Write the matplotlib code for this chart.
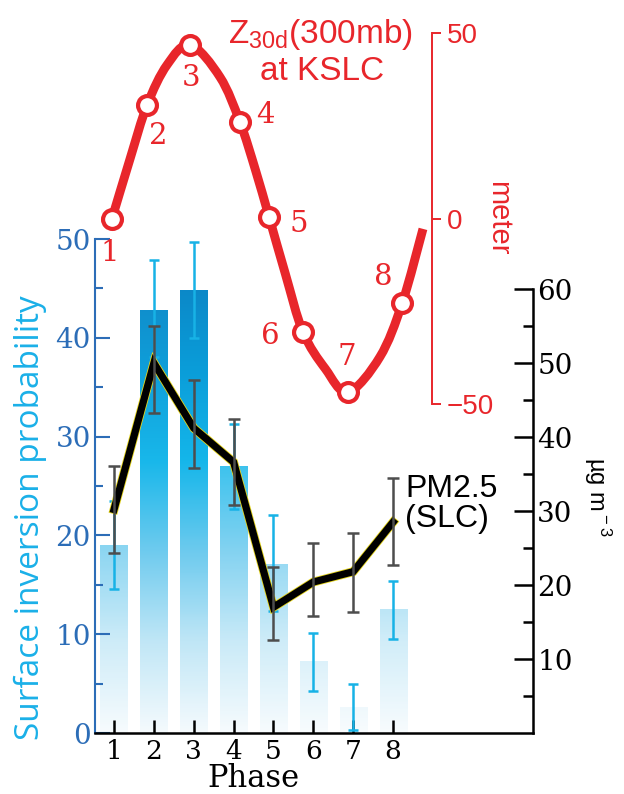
import numpy as np
import matplotlib
matplotlib.use("Agg")
import matplotlib.pyplot as plt
import matplotlib.patheffects as pe
from matplotlib.path import Path
from matplotlib.patches import PathPatch
from matplotlib.colors import LinearSegmentedColormap
from matplotlib.ticker import MultipleLocator

plt.rcParams['mathtext.fontset'] = 'custom'
plt.rcParams['mathtext.rm'] = 'Liberation Sans'

# surface inversion probability (bars, left axis)
phase = [1, 2, 3, 4, 5, 6, 7, 8]
inv_prob = [19.0, 42.8, 44.8, 27.0, 17.1, 7.2, 2.6, 12.5]
inv_lo = [14.6, 38.1, 40.0, 22.7, 12.3, 4.3, 0.3, 9.5]
inv_hi = [23.5, 47.9, 49.7, 31.3, 22.1, 10.1, 5.0, 15.4]

# PM2.5 at SLC (line, right axis, ug m-3)
pm25 = [30.2, 50.0, 41.2, 36.6, 17.0, 20.4, 21.8, 28.5]
pm25_lo = [24.3, 43.2, 35.8, 30.8, 12.6, 15.8, 16.4, 22.7]
pm25_hi = [36.1, 55.0, 47.7, 42.4, 22.4, 25.7, 27.0, 34.5]

# Z30d(300mb) at KSLC (red curve, meter); marker positions and traced curve
z_phase = [0.95, 1.83, 2.91, 4.16, 4.89, 5.74, 6.87, 8.23]
z_val = [0.0, 30.6, 46.8, 26.0, 0.4, -30.6, -46.8, -22.8]
z_curve_x = [0.95, 1.40, 1.83, 2.33, 2.91, 3.66, 4.16, 4.55, 4.89,
             5.30, 5.74, 6.30, 6.87, 7.67, 8.23, 8.75]
z_curve_y = [0.0, 16.0, 30.6, 41.4, 46.8, 38.1, 26.0, 13.0, 0.4,
             -15.0, -30.6, -40.5, -46.8, -37.3, -22.8, -2.8]
z_labels = ['1', '2', '3', '4', '5', '6', '7', '8']
z_label_offsets = [(-2, -34), (11, -31), (1, -33), (25, 7),
                   (30, -7), (-33, -4), (-1, 35), (-19, 26)]

RED = '#e8262b'
BLUE = '#2c6db7'
CYAN = '#17b2e6'
GRAY = '#4d4d4d'
SERIF = 'DejaVu Serif'
SANS = 'Liberation Sans'

W_PX, H_PX = 624, 794
fig = plt.figure(figsize=(W_PX / 100, H_PX / 100), dpi=100)
XLIM = (0.523, 11.51)
ax_left, ax_w = 95 / W_PX, 438 / W_PX

ax = fig.add_axes([ax_left, 61 / H_PX, ax_w, 494 / H_PX])

# gradient bars
cmap = LinearSegmentedColormap.from_list(
    'inv', ['#f4fafd', '#bfe6f6', '#6ccaee', '#14b6ea', '#0a9dd9', '#0b86c6'])
bars = ax.bar(phase, inv_prob, width=0.68, color='none', edgecolor='none', zorder=1)
for b, h in zip(bars, inv_prob):
    ys = np.linspace(h, 0, 120)
    rgb = cmap(ys / 46.0)[:, :3]
    strength = 0.6 + 0.4 * h / 45.0
    rgb = 1 - (1 - rgb) * strength
    ax.imshow(rgb[:, None, :], extent=[b.get_x(), b.get_x() + b.get_width(), 0, h],
              aspect='auto', zorder=1, interpolation='bilinear')
ax.set_xlim(*XLIM)
ax.set_ylim(0, 50)

ax.errorbar(phase, inv_prob,
            yerr=[np.subtract(inv_prob, inv_lo), np.subtract(inv_hi, inv_prob)],
            fmt='none', ecolor=CYAN, elinewidth=1.8, capsize=3.6, capthick=1.8, zorder=3)

for s in ['top', 'right']:
    ax.spines[s].set_visible(False)
ax.spines['left'].set_color(BLUE)
ax.spines['left'].set_linewidth(1.5)
ax.spines['bottom'].set_linewidth(1.8)
ax.yaxis.set_major_locator(MultipleLocator(10))
ax.yaxis.set_minor_locator(MultipleLocator(5))
ax.tick_params(axis='y', which='major', direction='in', length=11, width=1.5,
               color=BLUE, labelcolor=BLUE, labelsize=20, pad=3)
ax.tick_params(axis='y', which='minor', direction='in', length=6, width=1.5, color=BLUE)
ax.set_xticks(phase)
ax.tick_params(axis='x', direction='in', length=9.5, width=1.8, labelsize=19, pad=4)
for t in ax.get_xticklabels() + ax.get_yticklabels():
    t.set_family(SERIF)
ax.text(4.5, -0.093, 'Phase', transform=ax.get_xaxis_transform(), ha='center', va='center',
        fontsize=22, family=SERIF)

# PM2.5 twin axis
ax2 = ax.twinx()
ax2.set_ylim(0, 494 / 7.4)
ax2.plot(phase, pm25, color='black', lw=5.2, solid_joinstyle='miter', zorder=2,
         path_effects=[pe.Stroke(linewidth=6.4, foreground='#e4d41c'), pe.Normal()])
ax2.errorbar(phase, pm25,
             yerr=[np.subtract(pm25, pm25_lo), np.subtract(pm25_hi, pm25)],
             fmt='none', ecolor=GRAY, elinewidth=1.8, capsize=4.3, capthick=1.8, zorder=3)
for s in ['top', 'left', 'bottom']:
    ax2.spines[s].set_visible(False)
ax2.spines['right'].set_bounds(0, 60)
ax2.spines['right'].set_linewidth(1.8)
ax2.set_yticks([10, 20, 30, 40, 50, 60])
ax2.set_yticks([5, 15, 25, 35, 45, 55], minor=True)
ax2.tick_params(axis='y', which='major', direction='in', length=13.5, width=1.8,
                labelsize=20, pad=3)
ax2.tick_params(axis='y', which='minor', direction='in', length=7, width=1.8)
for t in ax2.get_yticklabels():
    t.set_family(SERIF)

fig.text(405 / W_PX, 1 - 474 / H_PX, 'PM2.5\n(SLC)', ha='left', va='top',
         fontsize=23, family=SANS, linespacing=1.0)
fig.text(597 / W_PX, 1 - 497 / H_PX, r'µg m$^{\rm -3}$', rotation=270,
         ha='center', va='center', fontsize=17, family=SANS)
fig.text(30 / W_PX, 1 - 518 / H_PX, 'Surface inversion probability', rotation=90,
         ha='center', va='center', fontsize=24, family='Open Sans', color='#1ab0e8')

# Z30d red curve axis
axz = fig.add_axes([ax_left, 1 - 404 / H_PX, ax_w, 371 / H_PX], facecolor='none')
axz.set_xlim(*XLIM)
axz.set_ylim(-50, 50)
pts = np.column_stack([z_curve_x, z_curve_y])
verts, codes = [pts[0]], [Path.MOVETO]
n = len(pts)
for i in range(n - 1):
    p0, p1 = pts[max(i - 1, 0)], pts[i]
    p2, p3 = pts[i + 1], pts[min(i + 2, n - 1)]
    verts += [p1 + (p2 - p0) / 6, p2 - (p3 - p1) / 6, p2]
    codes += [Path.CURVE4] * 3
axz.add_patch(PathPatch(Path(verts, codes), fill=False, edgecolor=RED, lw=6.4,
                        capstyle='butt', joinstyle='round', zorder=4))
axz.plot(z_phase, z_val, 'o', ms=13.6, mfc='white', mec=RED, mew=3.0, zorder=5)
for xp, yp, lab, off in zip(z_phase, z_val, z_labels, z_label_offsets):
    axz.annotate(lab, (xp, yp), xytext=off, textcoords='offset pixels',
                 ha='center', va='center', fontsize=21, family=SERIF, color=RED)
for s in ['top', 'left', 'bottom']:
    axz.spines[s].set_visible(False)
axz.spines['right'].set_position(('data', 8.98))
axz.spines['right'].set_color(RED)
axz.spines['right'].set_linewidth(1.4)
axz.set_xticks([])
axz.yaxis.tick_right()
axz.set_yticks([-50, 0, 50])
axz.tick_params(axis='y', direction='out', length=6.5, width=1.4, color=RED,
                labelcolor=RED, labelsize=20, pad=4)
for t in axz.get_yticklabels():
    t.set_family(SANS)

fig.text(320 / W_PX, 1 - 35 / H_PX, r'Z$_{\rm 30d}$(300mb)', ha='center', va='center',
         fontsize=24, family=SANS, color=RED)
fig.text(322 / W_PX, 1 - 72 / H_PX, 'at KSLC', ha='center', va='center',
         fontsize=24, family=SANS, color=RED)
fig.text(498 / W_PX, 1 - 218 / H_PX, 'meter', rotation=270, ha='center', va='center',
         fontsize=21, family=SANS, color=RED)

fig.savefig('out.png', dpi=100)
